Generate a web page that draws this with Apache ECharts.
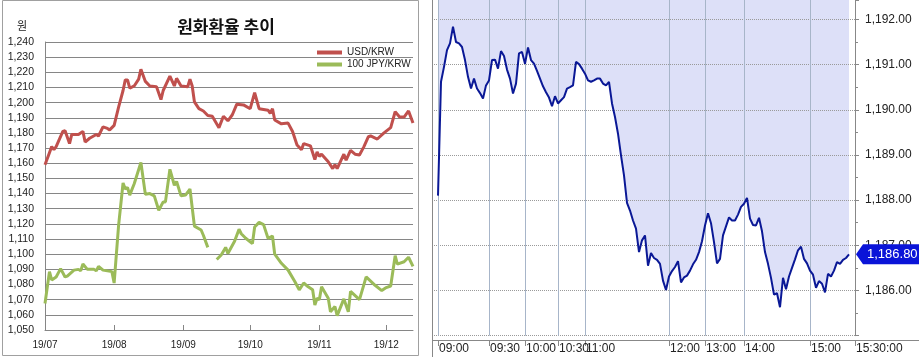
<!DOCTYPE html>
<html><head><meta charset="utf-8">
<script src="https://cdn.jsdelivr.net/npm/echarts@6/dist/echarts.min.js"></script>
<style>html,body{margin:0;padding:0;background:#fff}#c{width:919px;height:357px}</style>
</head><body><div id="c"></div>
<script>
// ---- Left chart: monthly trend ----
const usdDates = ['2019-07-01','2019-07-03','2019-07-04','2019-07-05','2019-07-06','2019-07-09','2019-07-10','2019-07-12','2019-07-13','2019-07-16','2019-07-18','2019-07-19','2019-07-21','2019-07-24','2019-07-25','2019-07-27','2019-07-29','2019-07-30','2019-08-01','2019-08-03','2019-08-05','2019-08-06','2019-08-07','2019-08-08','2019-08-10','2019-08-12','2019-08-13','2019-08-15','2019-08-17','2019-08-20','2019-08-22','2019-08-23','2019-08-26','2019-08-28','2019-08-29','2019-08-31','2019-09-03','2019-09-04','2019-09-05','2019-09-06','2019-09-08','2019-09-10','2019-09-12','2019-09-14','2019-09-17','2019-09-19','2019-09-21','2019-09-23','2019-09-25','2019-09-28','2019-10-01','2019-10-03','2019-10-05','2019-10-07','2019-10-09','2019-10-10','2019-10-11','2019-10-12','2019-10-15','2019-10-18','2019-10-20','2019-10-22','2019-10-24','2019-10-25','2019-10-28','2019-10-30','2019-10-31','2019-11-01','2019-11-02','2019-11-05','2019-11-07','2019-11-08','2019-11-09','2019-11-12','2019-11-13','2019-11-15','2019-11-17','2019-11-19','2019-11-21','2019-11-23','2019-11-24','2019-11-27','2019-11-30','2019-12-03','2019-12-05','2019-12-07','2019-12-09','2019-12-11','2019-12-13'];
const usdValues = [1159,1167,1171,1169,1171,1181,1181.5,1173,1179,1179,1181,1174,1176.5,1179,1178,1184,1183,1182,1185,1197,1208,1215,1215,1209.5,1211,1215.5,1222,1214,1211,1210.5,1202,1208,1217.5,1211,1216,1211,1210.5,1215.5,1211,1200.5,1196,1194.5,1191.5,1191,1183.5,1191,1188,1192,1199,1198.5,1196,1206.5,1196,1195.5,1195,1193,1196,1188.5,1186,1186.5,1181,1172,1169,1173,1171.5,1162.5,1167.5,1164.5,1166,1161,1156.5,1159,1156.5,1166,1162,1168.5,1166,1165.5,1171,1177.5,1178,1176,1180,1183.5,1194,1190.5,1190.5,1194.5,1186.5];
const jpyDates = ['2019-07-01','2019-07-03','2019-07-04','2019-07-06','2019-07-08','2019-07-10','2019-07-11','2019-07-14','2019-07-16','2019-07-17','2019-07-18','2019-07-20','2019-07-23','2019-07-24','2019-07-25','2019-07-27','2019-07-31','2019-08-01','2019-08-03','2019-08-05','2019-08-06','2019-08-07','2019-08-08','2019-08-10','2019-08-13','2019-08-15','2019-08-17','2019-08-19','2019-08-21','2019-08-23','2019-08-24','2019-08-26','2019-08-28','2019-08-29','2019-08-31','2019-09-02','2019-09-04','2019-09-06','2019-09-09','2019-09-10','2019-09-12','2019-09-14','2019-09-16','2019-09-18','2019-09-20','2019-09-21','2019-09-24','2019-09-26','2019-09-27','2019-09-29','2019-10-02','2019-10-03','2019-10-05','2019-10-07','2019-10-09','2019-10-11','2019-10-12','2019-10-15','2019-10-18','2019-10-21','2019-10-23','2019-10-25','2019-10-27','2019-10-29','2019-10-30','2019-10-31','2019-11-01','2019-11-02','2019-11-05','2019-11-06','2019-11-08','2019-11-09','2019-11-12','2019-11-14','2019-11-15','2019-11-19','2019-11-22','2019-11-26','2019-11-29','2019-12-01','2019-12-03','2019-12-05','2019-12-06','2019-12-09','2019-12-11','2019-12-13'];
const jpyValues = [1067.5,1088.5,1083,1085,1090.5,1085,1085.5,1089.5,1090,1089,1093.5,1090,1090,1089,1092,1089.5,1088.5,1081,1119,1147,1143,1144,1139,1146.5,1160.5,1139.5,1140,1138.5,1129,1134.5,1134.5,1156,1145.5,1148,1138.5,1139,1143,1118.5,1116,1112.5,1104.5,null,1096.5,1099.5,1104.5,1100.5,1108.5,1116.5,1113.5,1110.5,1107,1118,1121,1119.5,1110.5,1112,1100,1094,1089.5,1082,1076.5,1081,1078.5,1076.5,1066.5,1071,1070,1078.5,1071,1062,1065.5,1059.5,1070.5,1062,1075.5,1070,1085,1079.5,1076,1078,1079,1099,1093.5,1095,1098,1092];
const monthTicks = ['2019-07-01','2019-08-01','2019-09-01','2019-10-01','2019-11-01','2019-12-01'];
const leftRange = ['2019-07-01','2019-12-13'];

// ---- Right chart: intraday ----
const intradayPrices = [1188.10,1190.62,1190.95,1191.32,1191.47,1191.84,1191.50,1191.47,1191.39,1191.10,1190.73,1190.47,1190.69,1190.47,1190.37,1190.25,1190.54,1190.65,1191.10,1191.11,1190.91,1191.30,1191.19,1190.89,1190.69,1190.36,1190.58,1191.25,1191.28,1191.02,1191.38,1191.10,1191.02,1190.86,1190.69,1190.52,1190.39,1190.27,1190.08,1190.30,1190.14,1190.21,1190.28,1190.47,1190.50,1190.54,1191.06,1191.01,1190.91,1190.80,1190.65,1190.62,1190.65,1190.69,1190.69,1190.58,1190.54,1190.62,1190.14,1189.84,1189.47,1188.99,1188.55,1187.94,1187.77,1187.55,1187.37,1186.85,1187.11,1187.22,1186.55,1186.83,1186.72,1186.68,1186.59,1186.22,1186.01,1186.31,1186.43,1186.52,1186.65,1186.18,1186.29,1186.33,1186.44,1186.58,1186.68,1186.85,1187.09,1187.44,1187.71,1187.49,1187.07,1186.60,1186.70,1187.22,1187.42,1187.62,1187.55,1187.55,1187.68,1187.85,1187.92,1188.05,1187.59,1187.45,1187.44,1187.61,1187.31,1186.85,1186.59,1186.28,1185.91,1185.94,1185.63,1186.28,1186.03,1186.31,1186.50,1186.69,1186.89,1186.97,1186.70,1186.60,1186.44,1186.35,1186.06,1186.21,1186.15,1185.96,1186.37,1186.31,1186.44,1186.63,1186.59,1186.68,1186.72,1186.80];
const timeLabels = ['09:00','09:30','10:00','10:30','11:00','12:00','13:00','14:00','15:00','15:30:00'];
const timeLabelSlots = [2,19,31,42,51,79,91,104,126,141];
const slotCount = 142;
const firstSlot = 2;
const priceRange = [1185, 1192.43];

const ts = s => { const [y,m,d] = s.split('-').map(Number); return new Date(y, m-1, d).getTime(); };
const usdData = usdDates.map((d,i) => [ts(d), usdValues[i]]);
const jpyData = jpyDates.map((d,i) => [ts(d), jpyValues[i]]);
const slotNames = Array.from({length: slotCount}, (_, i) => 's' + i);
const slotLabel = {}; timeLabelSlots.forEach((s,i) => slotLabel[s] = timeLabels[i]);
const slotSet = new Set(timeLabelSlots);
const intraData = Array(slotCount).fill(null);
intradayPrices.forEach((v,i) => intraData[firstSlot + i] = v);

const fmt0 = v => Number(v).toLocaleString('en-US');
const fmt2 = v => Number(v).toLocaleString('en-US', {minimumFractionDigits:2, maximumFractionDigits:2});
const grey = '#868686';
const pxFont = '"Liberation Sans", Arial, sans-serif';

const chart = echarts.init(document.getElementById('c'), null, {renderer: 'canvas'});
chart.setOption({
  animation: false,
  backgroundColor: '#fff',
  title: [
    {text: '원화환율 추이', left: 221, top: 13, textAlign: 'center',
     textStyle: {fontFamily: '"Noto Sans CJK KR"', fontSize: 17, fontWeight: 'bold', color: '#111'}},
    {text: '원', left: 12, top: 15, textStyle: {fontFamily: '"Noto Sans CJK KR"', fontSize: 11, fontWeight: 'normal', color: '#222'}}
  ],
  legend: {
    data: ['USD/KRW', '100 JPY/KRW'], orient: 'vertical', left: 312, top: 42,
    itemWidth: 25, itemHeight: 4, itemGap: 1, icon: 'rect',
    textStyle: {fontFamily: pxFont, fontSize: 10, color: '#222', lineHeight: 11}
  },
  grid: [
    {left: 45, top: 42, right: 506, bottom: 27},
    {left: 432, top: 0, right: 64, bottom: 21.3}
  ],
  xAxis: [
    {type: 'value', gridIndex: 0, min: ts(leftRange[0]), max: ts(leftRange[1]),
     axisLine: {lineStyle: {color: grey}},
     axisTick: {show: true, inside: true, length: 5, customValues: monthTicks.map(ts), lineStyle: {color: grey}},
     axisLabel: {customValues: monthTicks.map(ts), fontFamily: pxFont, fontSize: 10, color: '#222', margin: 10,
       formatter: v => { const d = new Date(v); return String(d.getFullYear()).slice(2) + '/' + String(d.getMonth()+1).padStart(2,'0'); }},
     splitLine: {show: false}},
    {type: 'category', gridIndex: 1, data: slotNames, boundaryGap: false, offset: 4.3, z: 3,
     axisLine: {show: false},
     axisTick: {show: true, length: 6, interval: i => slotSet.has(i), lineStyle: {color: '#888'}},
     axisLabel: {interval: i => slotSet.has(i), formatter: (v, i) => slotLabel[i] || '', align: 'left',
       fontFamily: pxFont, fontSize: 12, color: '#222', margin: 3, padding: [0,0,0,1]},
     splitLine: {show: true, interval: i => slotSet.has(i), lineStyle: {color: '#a7b5c9', width: 1}}}
  ],
  yAxis: [
    {type: 'value', gridIndex: 0, min: 1050, max: 1240, interval: 10,
     axisLine: {show: true, lineStyle: {color: grey}}, axisTick: {show: false},
     axisLabel: {formatter: fmt0, fontFamily: pxFont, fontSize: 10.5, color: '#222', margin: 11},
     splitLine: {lineStyle: {color: grey, width: 1}}},
    {type: 'value', gridIndex: 1, position: 'right', min: priceRange[0], max: priceRange[1], interval: 1, z: 3,
     axisLine: {show: true, lineStyle: {color: '#888'}},
     axisTick: {show: true, length: 4, lineStyle: {color: '#888'}},
     minorTick: {show: true, splitNumber: 2, length: 3, lineStyle: {color: '#888'}},
     axisLabel: {formatter: fmt2, showMinLabel: false, showMaxLabel: false, fontFamily: pxFont, fontSize: 12, color: '#222', margin: 10},
     splitLine: {show: true, showMaxLine: false, lineStyle: {color: '#9a9a9a', type: 'dotted', width: 1}}}
  ],
  series: [
    {name: 'USD/KRW', type: 'line', xAxisIndex: 0, yAxisIndex: 0, data: usdData, showSymbol: false,
     lineStyle: {color: '#C0504D', width: 3}, itemStyle: {color: '#C0504D'}},
    {name: '100 JPY/KRW', type: 'line', xAxisIndex: 0, yAxisIndex: 0, data: jpyData, showSymbol: false,
     lineStyle: {color: '#9BBB59', width: 3}, itemStyle: {color: '#9BBB59'}},
    {name: 'fill', type: 'line', xAxisIndex: 1, yAxisIndex: 1, data: intraData, showSymbol: false, z: 1,
     lineStyle: {width: 0, opacity: 0}, areaStyle: {origin: 'end', color: '#dde0f8', opacity: 1}},
    {name: 'price', type: 'line', xAxisIndex: 1, yAxisIndex: 1, data: intraData, showSymbol: false, z: 5,
     lineStyle: {color: '#0a1896', width: 2}}
  ]
});

const lastVal = intradayPrices[intradayPrices.length - 1];
const ly = chart.convertToPixel({yAxisIndex: 1}, lastVal);
const ax = chart.convertToPixel({xAxisIndex: 1}, slotNames[slotCount - 1]);
chart.setOption({
  graphic: [
    {type: 'rect', shape: {x: 2.5, y: 0.5, width: 416, height: 355}, style: {fill: 'none', stroke: '#a0a0a0', lineWidth: 1}, z: 10},
    {type: 'line', shape: {x1: 432.5, y1: 0, x2: 432.5, y2: 357}, style: {stroke: '#888', lineWidth: 1}, z: 10},
    {type: 'line', shape: {x1: 432, y1: 340.5, x2: 919, y2: 340.5}, style: {stroke: '#888', lineWidth: 1}, z: 10},
    {type: 'polygon', shape: {points: [[ax + 1, ly], [ax + 8, ly - 10], [919, ly - 10], [919, ly + 10], [ax + 8, ly + 10]]},
     style: {fill: '#0a14d8'}, z: 20},
    {type: 'text', x: ax + 12, y: ly, style: {text: fmt2(lastVal), fill: '#fff', font: '13px "Liberation Sans", Arial, sans-serif', verticalAlign: 'middle'}, z: 21}
  ]
});
</script></body></html>
